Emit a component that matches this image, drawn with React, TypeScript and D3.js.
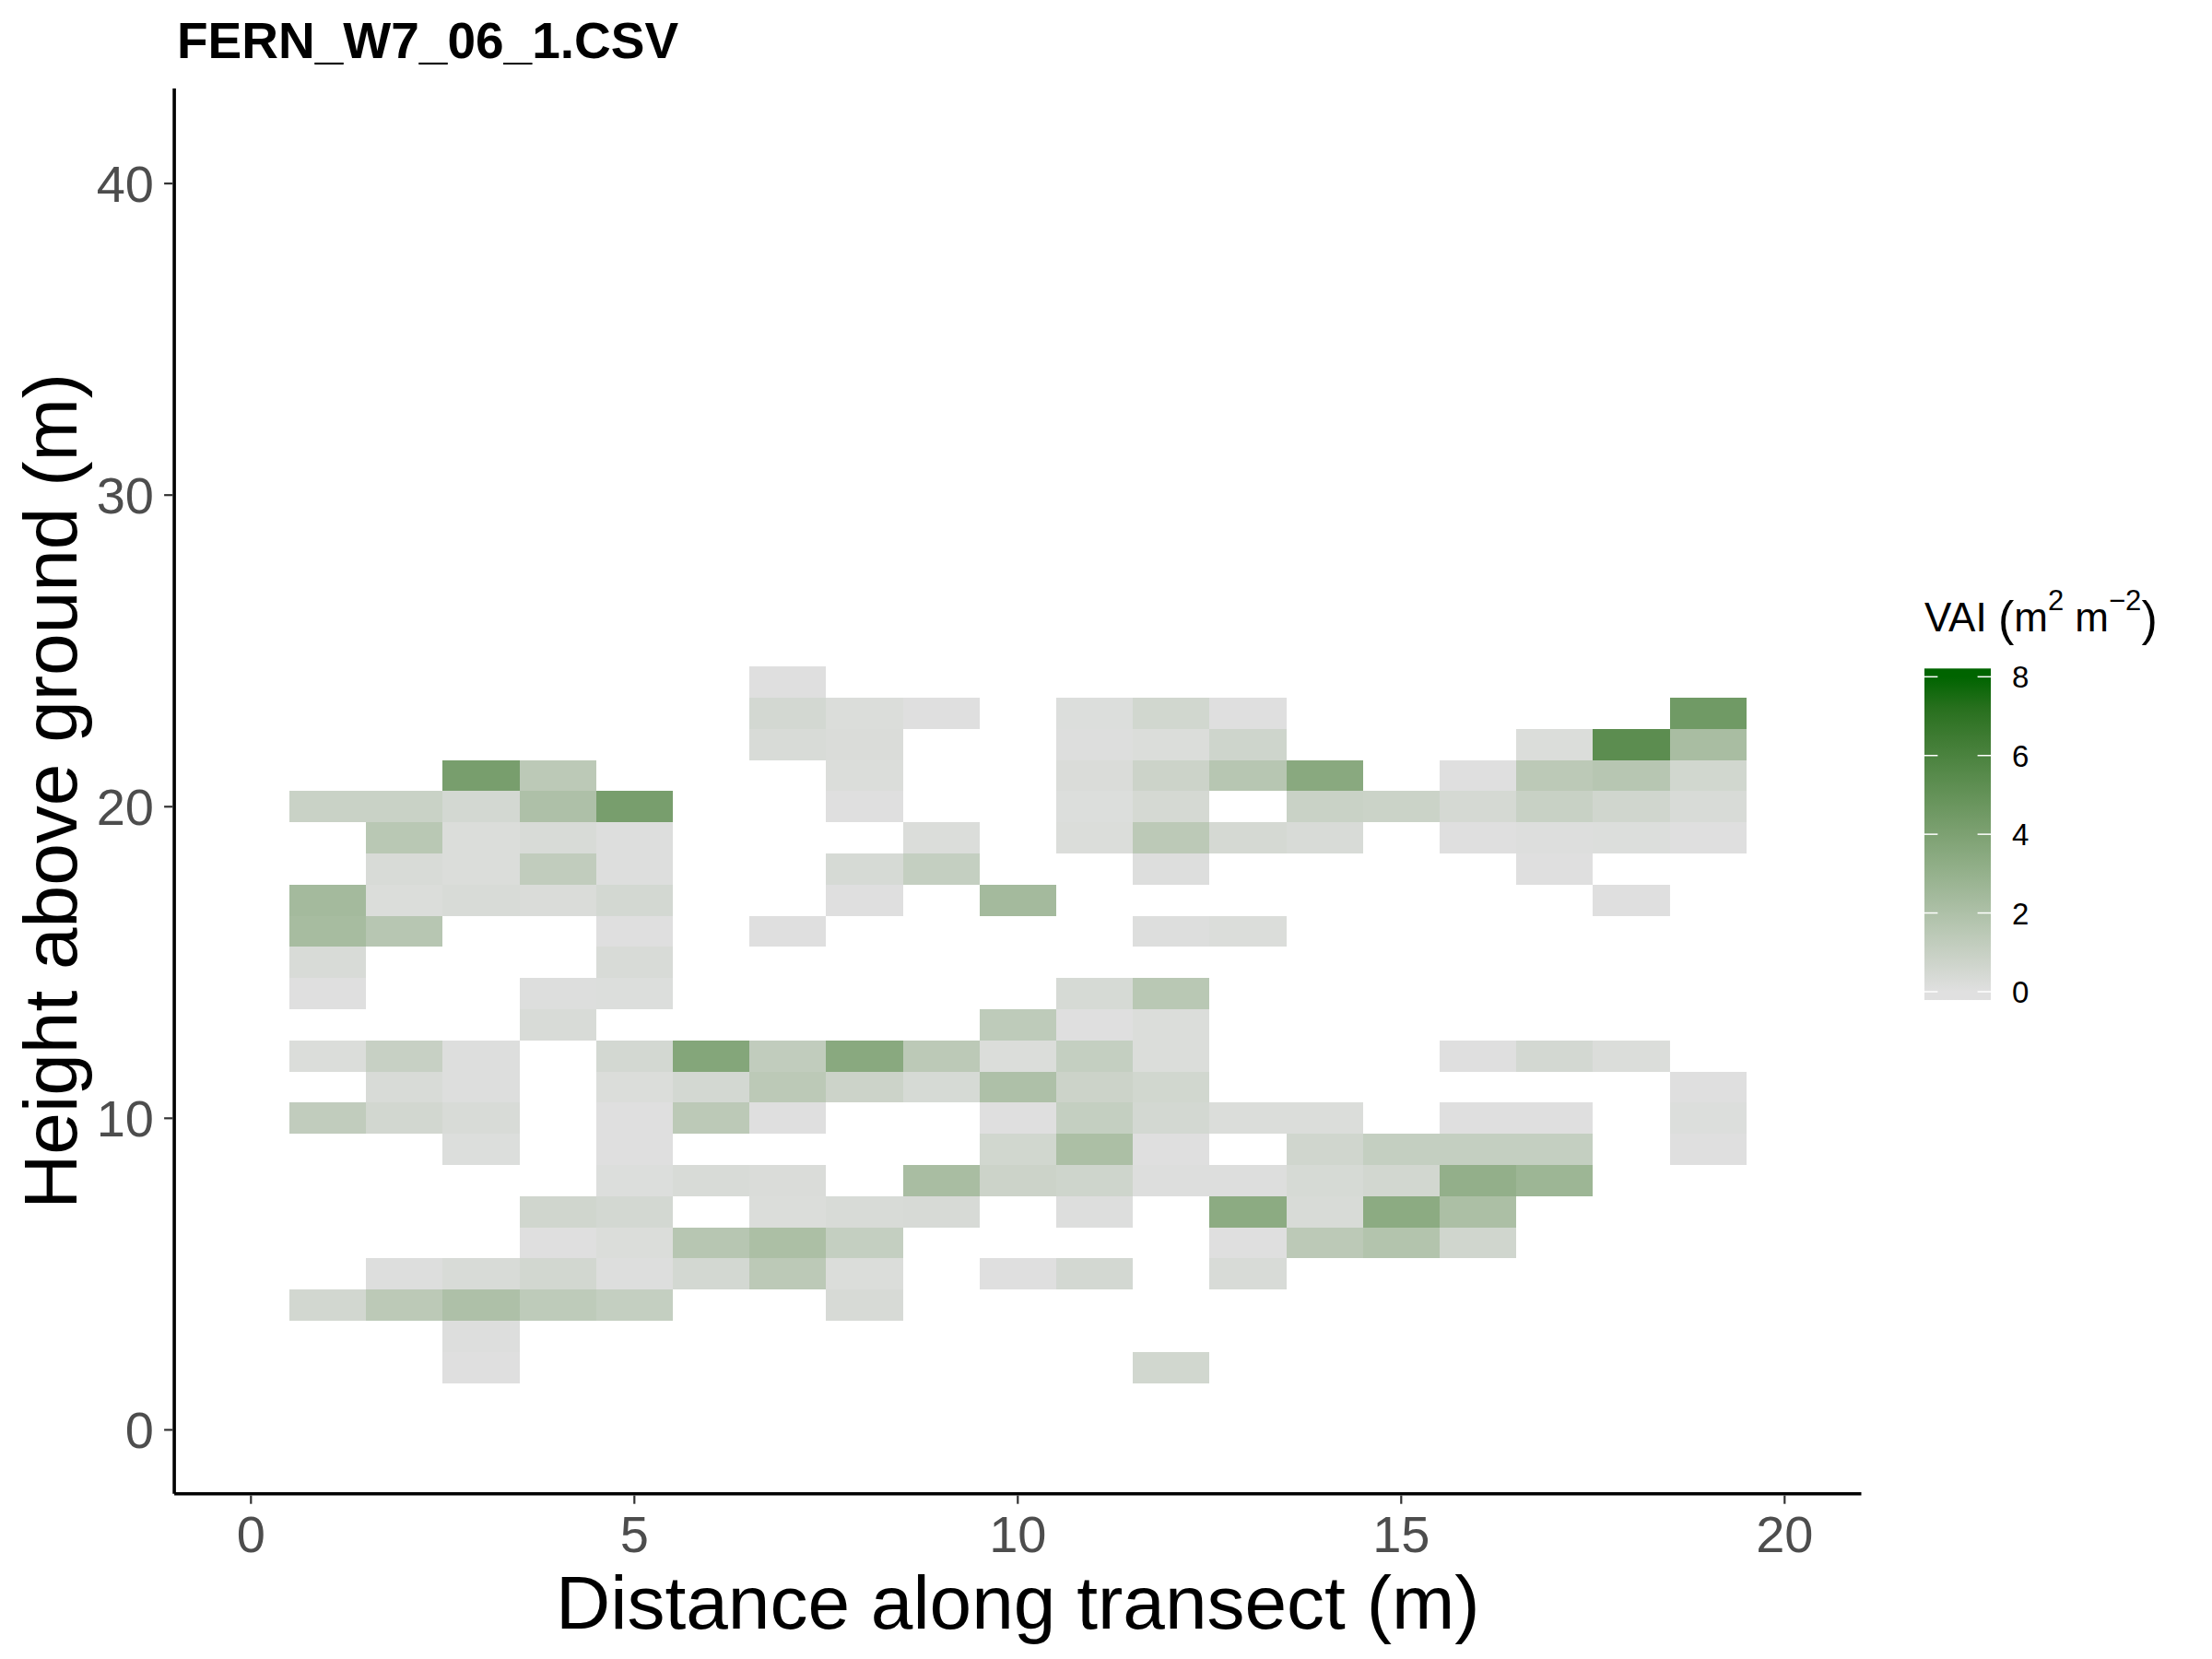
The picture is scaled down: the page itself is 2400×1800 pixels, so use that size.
import React from "react";
import * as d3 from "d3";

// ---- data ----
const chartTitle = "FERN_W7_06_1.CSV";
const distances = [1, 2, 3, 4, 5, 6, 7, 8, 9, 10, 11, 12, 13, 14, 15, 16, 17, 18, 19];
const heights = [24, 23, 22, 21, 20, 19, 18, 17, 16, 15, 14, 13, 12, 11, 10, 9, 8, 7, 6, 5, 4, 3, 2];
const _ = null;
// one row per height (top to bottom), columns = distances 1..19
const vaiRows: (number | null)[][] = [
  /*24*/ [_, _, _, _, _, _, 0.05, _, _, _, _, _, _, _, _, _, _, _, _],
  /*23*/ [_, _, _, _, _, _, 0.5, 0.2, 0.05, _, 0.15, 0.6, 0.05, _, _, _, _, _, 4.5],
  /*22*/ [_, _, _, _, _, _, 0.3, 0.25, _, _, 0.1, 0.2, 0.7, _, _, _, 0.2, 5.3, 2.2],
  /*21*/ [_, _, 4.2, 1.45, _, _, _, 0.2, _, _, 0.25, 0.8, 1.65, 3.5, _, 0.05, 1.45, 1.65, 0.6],
  /*20*/ [0.9, 0.9, 0.5, 2.0, 4.2, _, _, 0.05, _, _, 0.15, 0.45, _, 0.9, 0.85, 0.45, 0.95, 0.65, 0.3],
  /*19*/ [_, 1.55, 0.2, 0.3, 0.1, _, _, _, 0.2, _, 0.2, 1.45, 0.45, 0.3, _, 0.05, 0.12, 0.15, 0.05],
  /*18*/ [_, 0.3, 0.2, 1.25, 0.1, _, _, 0.4, 1.1, _, _, 0.1, _, _, _, _, 0.05, _, _],
  /*17*/ [2.4, 0.2, 0.3, 0.25, 0.5, _, _, 0.05, _, 2.4, _, _, _, _, _, _, _, 0.05, _],
  /*16*/ [2.3, 1.65, _, _, 0.05, _, 0.05, _, _, _, _, 0.1, 0.2, _, _, _, _, _, _],
  /*15*/ [0.3, _, _, _, 0.3, _, _, _, _, _, _, _, _, _, _, _, _, _, _],
  /*14*/ [0.05, _, _, 0.1, 0.15, _, _, _, _, _, 0.4, 1.55, _, _, _, _, _, _, _],
  /*13*/ [_, _, _, 0.3, _, _, _, _, _, 1.35, 0.05, 0.2, _, _, _, _, _, _, _],
  /*12*/ [0.2, 1.0, 0.1, _, 0.5, 3.7, 1.25, 3.5, 1.45, 0.2, 1.1, 0.2, _, _, _, 0.05, 0.5, 0.2, _],
  /*11*/ [_, 0.3, 0.1, _, 0.2, 0.5, 1.45, 0.8, 0.4, 2.0, 0.8, 0.6, _, _, _, _, _, _, 0.05],
  /*10*/ [1.25, 0.55, 0.3, _, 0.05, 1.45, 0.05, _, _, 0.05, 1.1, 0.5, 0.2, 0.2, _, 0.05, 0.05, _, 0.15],
  /* 9*/ [_, _, 0.15, _, 0.05, _, _, _, _, 0.6, 2.1, 0.05, _, 0.65, 1.1, 1.1, 1.1, _, 0.05],
  /* 8*/ [_, _, _, _, 0.15, 0.3, 0.25, _, 2.2, 0.8, 0.7, 0.1, 0.1, 0.4, 0.55, 3.1, 2.7, _, _],
  /* 7*/ [_, _, _, 0.65, 0.5, _, 0.2, 0.3, 0.35, _, 0.1, _, 3.4, 0.3, 3.4, 2.1, _, _, _],
  /* 6*/ [_, _, _, 0.05, 0.2, 1.65, 2.1, 1.1, _, _, _, _, 0.05, 1.45, 1.8, 0.65, _, _, _],
  /* 5*/ [_, 0.1, 0.3, 0.55, 0.1, 0.5, 1.45, 0.2, _, 0.05, 0.5, _, 0.3, _, _, _, _, _, _],
  /* 4*/ [0.55, 1.45, 2.0, 1.35, 1.1, _, _, 0.35, _, _, _, _, _, _, _, _, _, _, _],
  /* 3*/ [_, _, 0.1, _, _, _, _, _, _, _, _, _, _, _, _, _, _, _, _],
  /* 2*/ [_, _, 0.05, _, _, _, _, _, _, _, _, 0.6, _, _, _, _, _, _, _],
];
const xTicks = [0, 5, 10, 15, 20];
const yTicks = [0, 10, 20, 30, 40];
const legendBreaks = [0, 2, 4, 6, 8];
const xTitle = "Distance along transect (m)";
const yTitle = "Height above ground (m)";

type Cell = { x: number; y: number; v: number };
const cells: Cell[] = [];
heights.forEach((h, i) =>
  distances.forEach((d, j) => {
    const v = vaiRows[i][j];
    if (v !== null && v !== undefined) cells.push({ x: d, y: h, v });
  })
);

const FONT = "'Liberation Sans', Arial, sans-serif";

export default function App() {
  const W = 2400;
  const H = 1800;
  const x = d3.scaleLinear().domain([-1, 21]).range([189.1, 2019.5]);
  const y = d3.scaleLinear().domain([-2.05, 43.05]).range([1620.7, 96.0]);
  const color = d3
    .scaleLinear<string>()
    .domain([0, 8])
    .range(["#e0e0e0", "#006400"])
    .interpolate(d3.interpolateLab)
    .clamp(true);

  const ly = d3.scaleLinear().domain([0, 8]).range([1076, 734.3]);
  const halfBin = 8 / 19 / 2;
  const barX = 2088;
  const barW = 72;
  const gradStops = d3.range(0, 1.0001, 0.1);

  const [x0, x1] = x.range();
  const [yb, yt] = y.range();

  return (
    <svg
      width={W}
      height={H}
      viewBox={`0 0 ${W} ${H}`}
      style={{ position: "absolute", left: 0, top: 0, background: "#fff" }}
    >
      <rect x={0} y={0} width={W} height={H} fill="#ffffff" />
      <defs>
        <linearGradient
          id="vaiGrad"
          gradientUnits="userSpaceOnUse"
          x1={0}
          x2={0}
          y1={ly(0)}
          y2={ly(8)}
        >
          {gradStops.map((t) => (
            <stop key={t} offset={t} stopColor={color(t * 8)} />
          ))}
        </linearGradient>
      </defs>

      {/* tiles */}
      <g>
        {cells.map((c) => (
          <rect
            key={`${c.x}-${c.y}`}
            x={x(c.x - 0.5)}
            y={y(c.y + 0.5)}
            width={x(c.x + 0.5) - x(c.x - 0.5)}
            height={y(c.y - 0.5) - y(c.y + 0.5)}
            fill={color(c.v)}
            shapeRendering="crispEdges"
          />
        ))}
      </g>

      {/* axes lines */}
      <line x1={x0} x2={x1} y1={yb} y2={yb} stroke="#000" strokeWidth={3.6} />
      <line x1={x0} x2={x0} y1={yb} y2={yt} stroke="#000" strokeWidth={3.6} />

      {/* x ticks */}
      {xTicks.map((t) => (
        <g key={`xt${t}`}>
          <line x1={x(t)} x2={x(t)} y1={yb + 1.8} y2={yb + 11} stroke="#333" strokeWidth={2.2} />
          <text
            x={x(t)}
            y={1684}
            textAnchor="middle"
            fontFamily={FONT}
            fontSize={56}
            fill="#4d4d4d"
          >
            {t}
          </text>
        </g>
      ))}

      {/* y ticks */}
      {yTicks.map((t) => (
        <g key={`yt${t}`}>
          <line x1={x0 - 11} x2={x0 - 1.8} y1={y(t)} y2={y(t)} stroke="#333" strokeWidth={2.2} />
          <text
            x={167}
            y={y(t) + 20}
            textAnchor="end"
            fontFamily={FONT}
            fontSize={56}
            fill="#4d4d4d"
          >
            {t}
          </text>
        </g>
      ))}

      {/* axis titles */}
      <text
        x={(x0 + x1) / 2}
        y={1767}
        textAnchor="middle"
        fontFamily={FONT}
        fontSize={82}
        fill="#000"
      >
        {xTitle}
      </text>
      <text
        transform={`translate(83, ${(yb + yt) / 2}) rotate(-90)`}
        textAnchor="middle"
        fontFamily={FONT}
        fontSize={82}
        fill="#000"
      >
        {yTitle}
      </text>

      {/* plot title */}
      <text x={192} y={63} fontFamily={FONT} fontSize={55} fontWeight="bold" fill="#000">
        {chartTitle}
      </text>

      {/* legend */}
      <text x={barX} y={685} fontFamily={FONT} fontSize={44} fill="#000">
        <tspan>VAI </tspan>
        <tspan fontSize={52} dy={4}>(</tspan>
        <tspan dy={-4}>m</tspan>
        <tspan dy={-23} fontSize={31}>2</tspan>
        <tspan dy={23}>  m</tspan>
        <tspan dy={-23} fontSize={31}>−2</tspan>
        <tspan dy={27} fontSize={52}>)</tspan>
      </text>
      <rect
        x={barX}
        y={ly(8 + halfBin)}
        width={barW}
        height={ly(-halfBin) - ly(8 + halfBin)}
        fill="url(#vaiGrad)"
      />
      {legendBreaks.map((b) => (
        <g key={`lb${b}`}>
          <line x1={barX} x2={barX + barW * 0.2} y1={ly(b)} y2={ly(b)} stroke="#fff" strokeWidth={1.5} />
          <line
            x1={barX + barW * 0.8}
            x2={barX + barW}
            y1={ly(b)}
            y2={ly(b)}
            stroke="#fff"
            strokeWidth={1.5}
          />
          <text x={2183} y={ly(b) + 12} fontFamily={FONT} fontSize={33} fill="#000">
            {b}
          </text>
        </g>
      ))}
    </svg>
  );
}
